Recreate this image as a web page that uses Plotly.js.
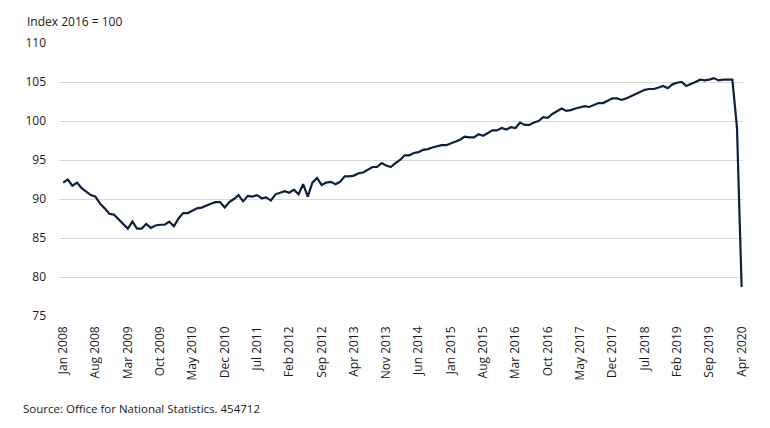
<!DOCTYPE html>
<html>
<head>
<meta charset="utf-8">
<script src="https://cdn.plot.ly/plotly-3.0.1.min.js"></script>
<style>html,body{margin:0;padding:0;background:#fff;}#chart{width:770px;height:428px;}</style>
</head>
<body>
<div id="chart"></div>
<script>
// Monthly index, Jan 2008 .. Apr 2020 (2016 = 100)
const startYear = 2008;
const monthNames = ["Jan","Feb","Mar","Apr","May","Jun","Jul","Aug","Sep","Oct","Nov","Dec"];
const values = [
  92.1, 92.5, 91.7, 92.1, 91.4, 90.9, 90.5, 90.3, 89.4, 88.8, 88.1, 88.0,   // 2008
  87.4, 86.9, 86.2, 87.1, 86.2, 86.2, 86.8, 86.3, 86.6, 86.7, 86.7, 87.1,   // 2009
  86.5, 87.5, 88.2, 88.2, 88.5, 88.8, 88.9, 89.2, 89.4, 89.6, 89.6, 88.9,   // 2010
  89.6, 90.0, 90.5, 89.7, 90.4, 90.3, 90.5, 90.1, 90.2, 89.8, 90.6, 90.8,   // 2011
  91.0, 90.8, 91.2, 90.6, 91.9, 90.3, 92.1, 92.7, 91.8, 92.1, 92.2, 91.9,   // 2012
  92.2, 92.9, 92.9, 93.0, 93.3, 93.4, 93.8, 94.1, 94.1, 94.6, 94.3, 94.1,   // 2013
  94.6, 95.0, 95.6, 95.6, 95.9, 96.0, 96.3, 96.4, 96.6, 96.8, 96.9, 96.9,   // 2014
  97.1, 97.3, 97.6, 98.0, 97.9, 97.9, 98.3, 98.1, 98.4, 98.8, 98.8, 99.1,   // 2015
  98.9, 99.2, 99.1, 99.8, 99.5, 99.5, 99.8, 100.0, 100.5, 100.4, 100.9, 101.3, // 2016
  101.6, 101.3, 101.4, 101.6, 101.8, 101.9, 101.8, 102.1, 102.3, 102.3, 102.6, 102.9, // 2017
  102.9, 102.7, 102.9, 103.2, 103.5, 103.8, 104.0, 104.1, 104.1, 104.3, 104.5, 104.2, // 2018
  104.7, 104.9, 105.0, 104.5, 104.7, 105.0, 105.3, 105.2, 105.3, 105.5, 105.2, 105.3, // 2019
  105.3, 105.3, 99.1, 78.7                                                   // 2020
];
const monthIndex = values.map((v, i) => i);
const tickStep = 7;
const tickVals = monthIndex.filter(i => i % tickStep === 0);
const tickLabels = tickVals.map(i => monthNames[i % 12] + " " + (startYear + Math.floor(i / 12)));
const yTicks = [75, 80, 85, 90, 95, 100, 105, 110];
const yTitle = "Index 2016 = 100";
const sourceText = "Source: Office for National Statistics. 454712";

const font = "'Open Sans', 'Noto Sans', sans-serif";

Plotly.newPlot("chart", [{
  x: monthIndex,
  y: values,
  type: "scatter",
  mode: "lines",
  line: {color: "#0e1f40", width: 2.2},
  hoverinfo: "skip"
}], {
  width: 770, height: 428,
  margin: {l: 59, r: 27, t: 43, b: 112},
  paper_bgcolor: "#fff", plot_bgcolor: "#fff",
  showlegend: false,
  font: {family: font, size: 12, color: "#1a1a1a"},
  xaxis: {
    range: [-0.9, 147.3],
    tickmode: "array", tickvals: tickVals, ticktext: tickLabels,
    tickangle: -90, showgrid: false, zeroline: false, showline: false,
    ticks: "", ticklabelstandoff: 7,
    tickfont: {family: font, size: 12, color: "#1a1a1a"}
  },
  yaxis: {
    range: [75, 110],
    tickmode: "array", tickvals: yTicks,
    showgrid: true, gridcolor: "#d9d9d9", gridwidth: 1,
    zeroline: false, showline: false, ticks: "",
    ticklabelstandoff: 12,
    tickfont: {family: font, size: 12, color: "#1a1a1a"}
  },
  annotations: [
    {text: yTitle, xref: "paper", yref: "paper", x: -0.05, y: 1.0, yshift: 22,
     xanchor: "left", yanchor: "middle", showarrow: false,
     font: {family: font, size: 12, color: "#1a1a1a"}},
    {text: sourceText, xref: "paper", yref: "paper", x: -0.056, y: 0, yshift: -92,
     xanchor: "left", yanchor: "middle", showarrow: false,
     font: {family: font, size: 11.5, color: "#1a1a1a"}}
  ]
}, {displayModeBar: false, staticPlot: true});
</script>
</body>
</html>
